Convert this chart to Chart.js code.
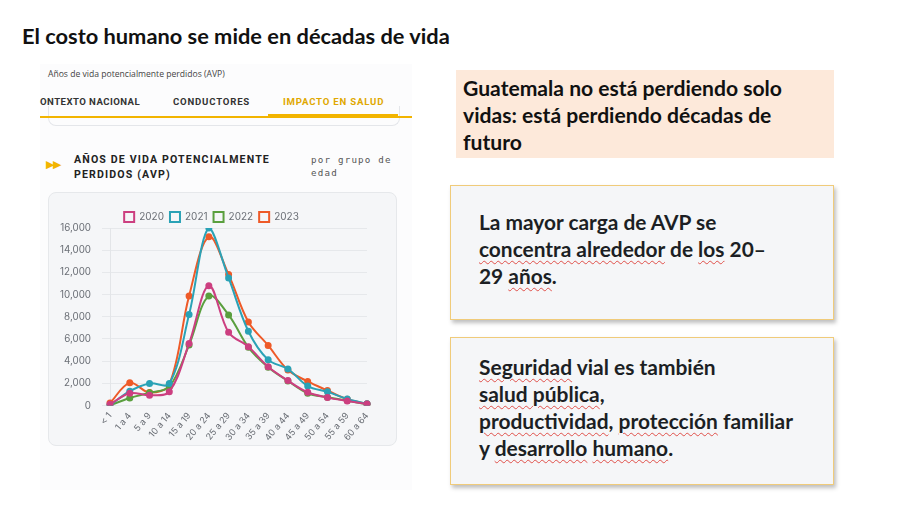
<!DOCTYPE html>
<html><head><meta charset="utf-8">
<script src="https://cdn.jsdelivr.net/npm/chart.js@4.4.1/dist/chart.umd.min.js"></script>
<style>
html,body{margin:0;padding:0;background:#fff;}
body{width:900px;height:509px;position:relative;overflow:hidden;font-family:Lato,"Open Sans",sans-serif;color:#111;}
.abs{position:absolute;}
#title{left:22px;top:22px;font-size:20px;font-weight:700;white-space:nowrap;color:#111;line-height:28px;}
#shot{left:40px;top:64px;width:372px;height:426px;background:#fcfcfd;}
#sub{left:48px;top:68px;font-family:"Open Sans",sans-serif;font-size:8.6px;color:#444;white-space:nowrap;}
.tab{top:96px;font-family:Roboto,sans-serif;font-weight:700;font-size:9.6px;letter-spacing:0.8px;color:#333;white-space:nowrap;}
#goldline{left:40px;top:116px;width:372px;height:2px;background:#f2b400;}
#tabul{left:268px;top:114px;width:130px;height:3px;background:#f2b400;}
#prevcard{left:48px;top:106px;width:350px;height:19px;border:1px solid #e4e6ea;border-top:none;border-radius:0 0 8px 8px;}
#tri{left:46px;top:157px;font-size:11px;color:#f2b400;letter-spacing:-1.5px;}
#h1{left:74px;top:152px;font-family:Roboto,sans-serif;font-weight:700;font-size:10.6px;line-height:15px;letter-spacing:1.15px;color:#222;white-space:nowrap;}
#h2{left:311px;top:154px;font-family:"DejaVu Sans Mono",monospace;font-size:9.2px;line-height:12.5px;letter-spacing:1.2px;color:#555;white-space:nowrap;}
#card{left:48px;top:192px;width:349px;height:254px;background:#f5f6f8;border:1px solid #e6e8eb;border-radius:8px;box-sizing:border-box;}
#cw{left:48px;top:196px;width:350px;height:252px;}
.box{position:absolute;box-sizing:border-box;font-family:Lato,"Open Sans",sans-serif;font-weight:700;color:#111;white-space:nowrap;}
#b1{left:456px;top:70px;width:378px;height:88px;background:#fde9da;padding:4px 0 0 7px;font-size:18px;line-height:27px;}
#b2{left:450px;top:185px;width:384px;height:135px;background:#f5f6f8;border:1px solid #f0cb7a;box-shadow:2px 3px 4px rgba(0,0,0,0.25);padding:22px 0 0 28px;font-size:18px;line-height:27px;color:#1c1f24;}
#b3{left:450px;top:337px;width:384px;height:148px;background:#f5f6f8;border:1px solid #f0cb7a;box-shadow:2px 3px 4px rgba(0,0,0,0.25);padding:15px 0 0 28px;font-size:18px;line-height:27px;color:#1c1f24;}
.sp{text-decoration:underline wavy #e0504a;text-decoration-thickness:1px;text-underline-offset:3px;}
</style></head>
<body>
<div id="title" class="abs"><span id="tl">El costo humano se mide en décadas de vida</span></div>
<div id="shot" class="abs"></div>
<div id="sub" class="abs">Años de vida potencialmente perdidos (AVP)</div>
<div id="prevcard" class="abs"></div>
<div class="abs tab" style="left:40px;letter-spacing:0.45px;">ONTEXTO NACIONAL</div>
<div class="abs tab" style="left:173px;">CONDUCTORES</div>
<div class="abs tab" style="left:283px;color:#e0a800;">IMPACTO EN SALUD</div>
<div id="goldline" class="abs"></div>
<div id="tabul" class="abs"></div>
<div id="tri" class="abs">▶▶</div>
<div id="h1" class="abs">AÑOS DE VIDA POTENCIALMENTE<br>PERDIDOS (AVP)</div>
<div id="h2" class="abs">por grupo de<br>edad</div>
<div id="card" class="abs"></div>
<div id="cw" class="abs"><canvas id="c" width="350" height="252"></canvas></div>

<div id="b1" class="box"><span id="l1">Guatemala no está perdiendo solo</span><br>vidas: está perdiendo décadas de<br>futuro</div>
<div id="b2" class="box">La mayor carga de AVP se<br><span id="l2"><span class="sp">concentra alrededor</span> de <span class="sp">los</span> 20–</span><br>29 <span class="sp">años</span>.</div>
<div id="b3" class="box"><span class="sp">Seguridad</span> vial es también<br><span class="sp">salud pública</span>,<br><span id="l3"><span class="sp">productividad</span>, <span class="sp">protección</span> familiar</span><br>y <span class="sp">desarrollo</span> <span class="sp">humano</span>.</div>

<script>
const categories = ["< 1","1 a 4","5 a 9","10 a 14","15 a 19","20 a 24","25 a 29","30 a 34","35 a 39","40 a 44","45 a 49","50 a 54","55 a 59","60 a 64"];
const years = ["2020","2021","2022","2023"];
const avp2020 = [120,1120,930,1250,5600,10800,6600,5300,3500,2250,1200,720,420,150];
const avp2021 = [30,1300,2000,1980,8200,16000,11500,6700,4120,3300,1760,1240,600,170];
const avp2022 = [20,680,1150,1700,5450,9870,8170,5250,3460,2220,1110,760,450,110];
const avp2023 = [230,2050,1180,1900,9880,15210,11800,7530,5420,3200,2180,1360,570,160];
const yTicks = [0,2000,4000,6000,8000,10000,12000,14000,16000];
const colors = ["#cc3f80","#2aa2b6","#5a9f3e","#ee5a28"];
const series = [avp2020, avp2021, avp2022, avp2023];

// fit text blocks to the widths measured on the reference
function fit(boxId, lineId, target) {
  const box = document.getElementById(boxId), line = document.getElementById(lineId);
  const fs = parseFloat(getComputedStyle(box).fontSize);
  const w = line.getBoundingClientRect().width;
  box.style.fontSize = (fs * target / w).toFixed(2) + "px";
}
fit("title", "tl", 428);
fit("b1", "l1", 319);
fit("b2", "l2", 287);
fit("b3", "l3", 314);

Chart.defaults.font.family = "Inter, Roboto, sans-serif";
Chart.defaults.font.size = 9.5;
Chart.defaults.color = "#6b6f76";

const tightLegend = {
  id: "tightLegend",
  beforeInit(chart) {
    const lg = chart.legend;
    if (lg && lg.fit) {
      const orig = lg.fit;
      lg.fit = function () { orig.call(this); this.height -= 4; };
    }
  }
};

new Chart(document.getElementById("c"), {
  type: "line",
  data: {
    labels: categories,
    datasets: years.map((y, i) => ({
      label: y,
      data: series[i],
      borderColor: colors[i],
      backgroundColor: "rgba(255,255,255,0)",
      pointBackgroundColor: colors[i],
      pointBorderColor: colors[i],
      pointRadius: 2.5,
      borderWidth: 2,
      tension: 0.35
    }))
  },
  plugins: [tightLegend],
  options: {
    responsive: false,
    animation: false,
    devicePixelRatio: 1,
    layout: { padding: { left: 8, right: 31, top: 10, bottom: 0 } },
    plugins: {
      legend: {
        position: "top",
        labels: { boxWidth: 10, boxHeight: 10, padding: 6, font: { size: 10 } }
      },
      tooltip: { enabled: false }
    },
    scales: {
      x: {
        grid: { display: false, drawTicks: false },
        border: { color: "#e3e5e8" },
        ticks: { minRotation: 50, maxRotation: 50, autoSkip: false, padding: 5, font: { size: 9 } }
      },
      y: {
        min: 0, max: 16000,
        afterBuildTicks: s => { s.ticks = yTicks.map(v => ({ value: v })); },
        afterFit: s => { s.width = 54; },
        grid: { color: "#e6e8eb" },
        border: { display: true, color: "#e3e5e8" },
        ticks: { callback: v => v.toLocaleString("en-US"), padding: 11, font: { size: 9.8 } }
      }
    }
  }
});
</script>
</body></html>
